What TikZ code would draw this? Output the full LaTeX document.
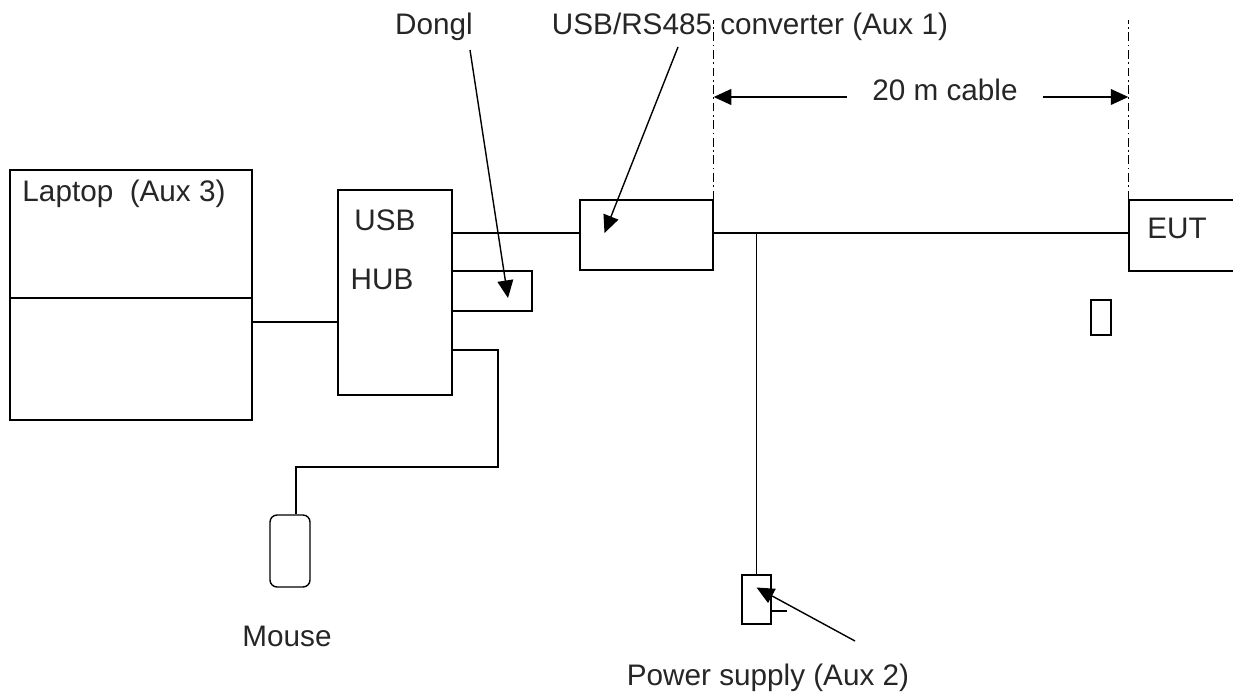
\documentclass[tikz,border=0pt]{standalone}
\usepackage{fontspec}
\setmainfont{Liberation Sans}
\usetikzlibrary{arrows.meta}

\begin{document}
\begin{tikzpicture}[x=0.02cm,y=-0.02cm,
  line width=0.8pt,
  font=\fontsize{16.9}{19}\selectfont,
  arr/.style={-{Triangle[length=10pt,width=9pt]}},
  box/.style={draw,rectangle,inner sep=0pt},
  txt/.style={inner sep=0pt,text=black!85}]

\clip (0,0) rectangle (1233,692);

% Laptop
\node[box,minimum width=4.84cm,minimum height=5cm] (laptop) at (131,295) {};
\draw (laptop.west |- 0,298) -- (laptop.east |- 0,298);
\node[txt] (laptoplbl) at (124,194) {Laptop\ \ (Aux 3)};

% USB hub und Dongle
\node[box,minimum width=2.28cm,minimum height=4.1cm] (hub) at (395,292.5) {};
\node[txt] (usblbl) at (385,220) {USB};
\node[txt] (hublbl) at (382,279) {HUB};
\node[box,minimum width=1.6cm,minimum height=0.8cm] (dongle) at (492,291) {};

% Mouse
\node[box,rounded corners=4pt,minimum width=0.8cm,minimum height=1.44cm] (mouse) at (290,551) {};
\node[txt] (mouselbl) at (287,636) {Mouse};

% Konverter
\node[box,minimum width=2.66cm,minimum height=1.4cm] (conv) at (646.5,235) {};

% EUT
\node[box,minimum width=3cm,minimum height=1.42cm] (eut) at (1204,235.5) {};
\node[txt] (eutlbl) at (1177,228) {EUT};
\node[box,minimum width=0.4cm,minimum height=0.7cm] (small) at (1101,317.5) {};

% Netzteil
\node[box,minimum width=0.58cm,minimum height=0.98cm] (psu) at (756.5,599.5) {};
\draw (psu.east |- 0,611) -- ++(15,0);
\node[txt] (psulbl) at (768,678) {Power supply (Aux 2)};

% Kabel
\draw (laptop.east |- 0,322) -- (hub.west |- 0,322);
\draw (hub.east |- 0,233) -- (conv.west |- 0,233);
\draw (hub.east |- 0,350) -| (498,467) -| ([xshift=0.12cm]mouse.north);
\draw (conv.east |- 0,233) -- (eut.west |- 0,233);
\draw (psu.north |- 0,233) -- (psu.north);

% Beschriftungen oben
\node[txt] (donglbl) at (434,27) {Dongl};
\node[txt] (convlbl) at (750,27) {USB/RS485 converter (Aux 1)};
\coordinate (dongarr) at (470,50);
\coordinate (convarr) at (678,47);
\coordinate (psuarr) at (855,641);
\draw[arr] (dongarr) -- ([shift={(16,7)}]dongle.center);
\draw[arr] (convarr) -- ([shift={(-42,-2)}]conv.center);
\draw[arr] (psuarr) -- ([shift={(0,-12)}]psu.center);

% 20 m
\draw[line width=0.5pt,dash pattern=on 5pt off 2pt on 1pt off 2pt] (conv.north east) -- (conv.north east |- 0,20);
\draw[line width=0.5pt,dash pattern=on 5pt off 2pt on 1pt off 2pt] (eut.north west) -- (eut.north west |- 0,20);
\node[txt,inner xsep=0.5cm] (cable) at (945,90) {20 m cable};
\draw[arr] (cable.west |- 0,97) -- (conv.north east |- 0,97);
\draw[arr] (cable.east |- 0,97) -- (eut.north west |- 0,97);

\end{tikzpicture}
\end{document}
